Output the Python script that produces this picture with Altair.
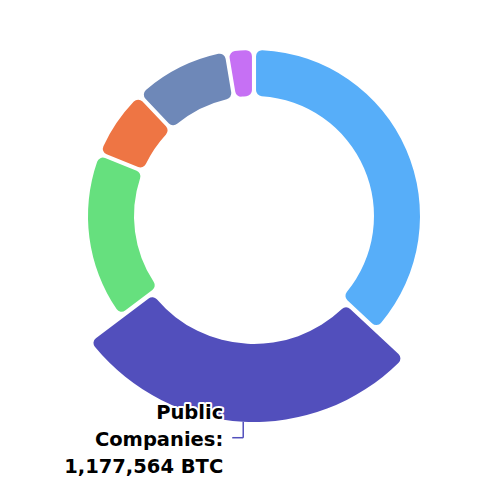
import altair as alt
import pandas as pd

# bitcoin holdings by holder type, clockwise from 12 o'clock
categories = ["ETFs & Funds", "Public Companies", "Private Companies",
              "DeFi & Other", "Governments", "Exchanges & Custodians"]
btc = [1566200, 1177564, 694800, 288500, 400400, 111900]
colors = ["#57aef9", "#524fbc", "#66e07e", "#ee7544", "#6e88b8", "#c670f4"]
active = "Public Companies"

df = pd.DataFrame({"category": categories, "btc": btc,
                   "order": list(range(len(categories)))})

CX, CY = 246, 208

base = alt.Chart(df).transform_joinaggregate(
    total="sum(btc)"
).transform_window(
    cum="sum(btc)", sort=[alt.SortField("order")]
).transform_calculate(
    r=f"datum.category == '{active}' ? 206 : 166",
    r2=f"datum.category == '{active}' ? 128 : 120",
    a0="2 * PI * (datum.cum - datum.btc) / datum.total",
    a1="2 * PI * datum.cum / datum.total",
    mid="2 * PI * (datum.cum - datum.btc / 2) / datum.total",
)

arcs = base.mark_arc(cornerRadius=6, padAngle=0.02).encode(
    theta=alt.Theta("a0:Q", scale=None, stack=None),
    theta2="a1:Q",
    radius=alt.Radius("r:Q", scale=None),
    radius2=alt.Radius2("r2:Q"),
    color=alt.Color("category:N",
                    scale=alt.Scale(domain=categories, range=colors),
                    legend=None),
    x=alt.value(CX),
    y=alt.value(CY),
)

lead = base.transform_filter(f"datum.category == '{active}'").transform_calculate(
    lx=f"{CX} + datum.r * sin(datum.mid)",
    ly=f"{CY} - datum.r * cos(datum.mid)",
).transform_calculate(
    ly2="datum.ly + 16",
    lx2="datum.lx - 11",
    tx="datum.lx - 20",
    ty="datum.ly + 16 - 25",
    label="replace(datum.category, ' ', '\\n') + ':\\n' + format(datum.btc, ',') + ' BTC'",
)

vline = lead.mark_rule(color="#524fbc", strokeWidth=1.5).encode(
    x=alt.X("lx:Q", scale=None),
    y=alt.Y("ly:Q", scale=None),
    y2="ly2:Q",
)
hline = lead.mark_rule(color="#524fbc", strokeWidth=1.5).encode(
    x=alt.X("lx:Q", scale=None),
    x2="lx2:Q",
    y=alt.Y("ly2:Q", scale=None),
)

text_kw = dict(align="right", baseline="middle", lineBreak="\n",
               lineHeight=27, font="DejaVu Sans", fontSize=19.5, fontWeight=700)
halo = lead.mark_text(stroke="white", strokeWidth=4, fill="white",
                      strokeJoin="round", **text_kw).encode(
    x=alt.X("tx:Q", scale=None),
    y=alt.Y("ty:Q", scale=None),
    text="label:N",
)
label = lead.mark_text(fill="black", **text_kw).encode(
    x=alt.X("tx:Q", scale=None),
    y=alt.Y("ty:Q", scale=None),
    text="label:N",
)

chart = alt.layer(arcs, vline, hline, halo, label).properties(
    width=480, height=480, padding=0
).configure_view(stroke=None)

chart.save("out.html", embed_options={"renderer": "svg", "actions": False})
